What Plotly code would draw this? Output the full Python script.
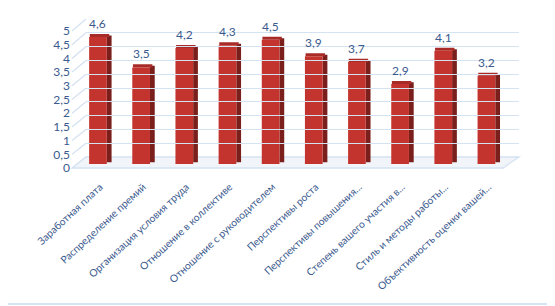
import plotly.graph_objects as go

categories = ["Заработная плата", "Распределение премий", "Организация условия труда",
              "Отношение в коллективе", "Отношение с руководителем", "Перспективы роста",
              "Перспективы повышения...", "Степень вашего участия в...",
              "Стиль и методы работы...", "Объективность оценки вашей..."]
values = [4.6, 3.5, 4.2, 4.3, 4.5, 3.9, 3.7, 2.9, 4.1, 3.2]
tick_vals = [0, 0.5, 1, 1.5, 2, 2.5, 3, 3.5, 4, 4.5, 5]
tick_text = ["0", "0,5", "1", "1,5", "2", "2,5", "3", "3,5", "4", "4,5", "5"]

# page body has an 8px margin; figure sized to fit the 555x306 window
OFF = 8
W, H = 555 - OFF, 306 - OFF
# plot area in screen pixels: x 72..519, y 19..168
L, T = 72 - OFF, 19 - OFF
R, B = W - (519 - OFF), H - (168 - OFF)
PW, PH = W - L - R, H - T - B

def px(xs):
    return (xs - OFF - L) / PW

def py(ys):
    return (H - B - (ys - OFF)) / PH

FONT = "Lato"
BLUE = "#3B5A8E"
GRID = "#D5E2F2"

fig = go.Figure()
# side faces
fig.add_trace(go.Bar(x=categories, y=values, base=[0.06] * len(values), width=0.11, offset=0.205,
                     marker=dict(color="#7A1F1C", line_width=0), hoverinfo="skip",
                     xaxis="x", yaxis="y"))
# top faces
fig.add_trace(go.Bar(x=categories, y=[0.11] * len(values), base=values, width=0.45, offset=-0.19,
                     marker=dict(color="#A82B27", line_width=0), hoverinfo="skip",
                     xaxis="x", yaxis="y"))
# front faces
fig.add_trace(go.Bar(x=categories, y=values, width=0.41, offset=-0.205,
                     marker=dict(color="#C4342F", line_width=0),
                     xaxis="x", yaxis="y"))
# back-wall grid carrier
fig.add_trace(go.Scatter(x=[0, 1], y=[0, 5], mode="markers", marker=dict(opacity=0),
                         hoverinfo="skip", xaxis="x2", yaxis="y2"))
# tick-label carrier
fig.add_trace(go.Scatter(x=[0, 1], y=[0, 5], mode="markers", marker=dict(opacity=0),
                         hoverinfo="skip", xaxis="x3", yaxis="y3"))

annotations = [dict(x=c, y=v, xref="x", yref="y", text=f"{v:.1f}".replace(".", ","),
                    showarrow=False, yanchor="bottom", yshift=4, xshift=0,
                    font=dict(family=FONT, size=12, color=BLUE))
               for c, v in zip(categories, values)]

shapes = []
# left wall slanted lines
for v in tick_vals:
    y_front = 168 - v * 27.4
    y_back = 157 - v * 27.6
    shapes.append(dict(type="line", xref="paper", yref="paper",
                       x0=px(72), y0=py(y_front), x1=px(86), y1=py(y_back),
                       line=dict(color=GRID, width=1.3), layer="below"))
# floor
shapes.append(dict(type="path", xref="paper", yref="paper",
                   path=f"M {px(72)},{py(168)} L {px(503)},{py(168)} L {px(519)},{py(157)} L {px(86)},{py(157)} Z",
                   fillcolor="#F1F4F8", line=dict(color=GRID, width=1.3), layer="below"))
# outer border (right and bottom edges inside the window)
shapes.append(dict(type="line", xref="paper", yref="paper",
                   x0=px(551), y0=py(304), x1=px(551), y1=py(OFF),
                   line=dict(color="#C9DAEE", width=1.5), layer="below"))
shapes.append(dict(type="line", xref="paper", yref="paper",
                   x0=px(OFF), y0=py(304), x1=px(551), y1=py(304),
                   line=dict(color="#C9DAEE", width=1.5), layer="below"))

fig.update_layout(
    width=W, height=H,
    margin=dict(l=L, r=R, t=T, b=B, autoexpand=False),
    paper_bgcolor="white", plot_bgcolor="rgba(0,0,0,0)",
    barmode="overlay", showlegend=False,
    separators=", ",
    shapes=shapes, annotations=annotations,
    xaxis=dict(domain=[px(76.4), px(508)], range=[-0.5, 9.5], showgrid=False, zeroline=False,
               showline=False, ticks="", tickangle=-43, anchor="y", automargin=False,
               ticklabelstandoff=14, ticklabelshift=2,
               tickfont=dict(family=FONT, size=10.3, color=BLUE)),
    yaxis=dict(domain=[py(164), py(26)], range=[0, 5], showgrid=False, zeroline=False,
               showticklabels=False, anchor="x", automargin=False),
    xaxis2=dict(domain=[px(86), px(519)], range=[0, 1], showgrid=False, zeroline=False,
                showticklabels=False, anchor="y2", automargin=False),
    yaxis2=dict(domain=[py(157), py(19)], range=[0, 5], tickvals=tick_vals, showgrid=True,
                gridcolor=GRID, gridwidth=1.3, zeroline=False, showticklabels=False, anchor="x2",
                automargin=False),
    xaxis3=dict(domain=[px(72), px(503)], range=[0, 1], visible=False, anchor="y3"),
    yaxis3=dict(domain=[py(168), py(31)], range=[0, 5], tickvals=tick_vals, ticktext=tick_text,
                showgrid=False, zeroline=False, anchor="free", position=0, automargin=False,
                ticks="", ticklabelstandoff=2, tickfont=dict(family=FONT, size=12, color=BLUE)),
)
fig.write_html("out.html")
